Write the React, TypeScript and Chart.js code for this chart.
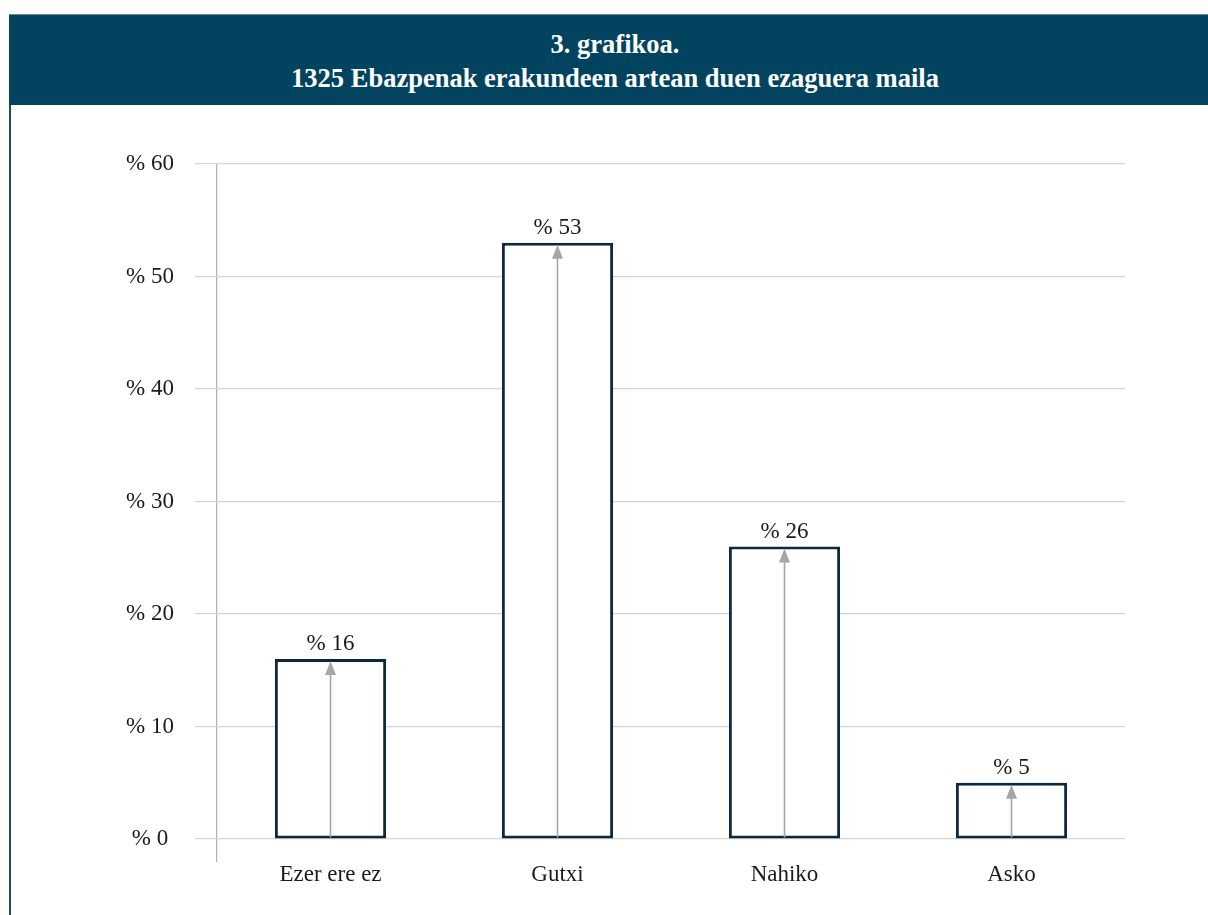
import React, { useEffect, useRef } from "react";
import { Chart, registerables } from "chart.js";
Chart.register(...registerables);

const titleLines = ["3. grafikoa.", "1325 Ebazpenak erakundeen artean duen ezaguera maila"];
const categories = ["Ezer ere ez", "Gutxi", "Nahiko", "Asko"];
const values = [16, 53, 26, 5];
const yMin = 0;
const yMax = 60;
const yStep = 10;
const valuePrefix = "% ";

const FONT = "'Liberation Serif', 'DejaVu Serif', serif";

const barDecor = {
  id: "barDecor",
  afterDatasetsDraw(chart: any) {
    const ctx = chart.ctx;
    const meta = chart.getDatasetMeta(0);
    ctx.save();
    meta.data.forEach((bar: any, i: number) => {
      const x = bar.x;
      const top = bar.y;
      const base = bar.base;
      // arrow
      ctx.strokeStyle = "#a6a6a6";
      ctx.fillStyle = "#a6a6a6";
      ctx.lineWidth = 1.6;
      ctx.beginPath();
      ctx.moveTo(x, base - 1);
      ctx.lineTo(x, top + 12);
      ctx.stroke();
      ctx.beginPath();
      ctx.moveTo(x, top + 2);
      ctx.lineTo(x - 5.5, top + 16);
      ctx.lineTo(x + 5.5, top + 16);
      ctx.closePath();
      ctx.fill();
      // label
      ctx.fillStyle = "#1a1a1a";
      ctx.font = `23px ${FONT}`;
      ctx.textAlign = "center";
      ctx.textBaseline = "alphabetic";
      ctx.fillText(valuePrefix + values[i], x, top - 9);
    });
    ctx.restore();
  },
};

function BarChart() {
  const ref = useRef<HTMLCanvasElement | null>(null);
  useEffect(() => {
    if (!ref.current) return;
    const chart = new Chart(ref.current, {
      type: "bar",
      data: {
        labels: categories,
        datasets: [
          {
            data: values,
            backgroundColor: "#ffffff",
            borderColor: "#0d2840",
            borderWidth: 3,
            borderSkipped: false,
            barPercentage: 0.49,
            categoryPercentage: 1,
          },
        ],
      },
      options: {
        animation: false,
        responsive: true,
        maintainAspectRatio: false,
        layout: { padding: { left: 0, right: 83, top: 59, bottom: 0 } },
        plugins: {
          legend: { display: false },
          title: { display: false },
          tooltip: { enabled: false },
        },
        scales: {
          x: {
            offset: true,
            border: { display: false },
            grid: {
              offset: true,
              drawOnChartArea: true,
              drawTicks: true,
              tickLength: 23,
              lineWidth: 1.2,
              color: (c: any) => (c.index === 0 ? "#b0b0b0" : "rgba(0,0,0,0)"),
            },
            ticks: {
              color: "#1a1a1a",
              font: { family: FONT, size: 23, lineHeight: 1.1 },
              padding: 0,
            },
            afterFit: (s: any) => {
              s.height = 76;
            },
          },
          y: {
            min: yMin,
            max: yMax,
            border: { display: false },
            grid: {
              color: "#d4d4d4",
              lineWidth: 1.2,
              tickLength: 22,
            },
            ticks: {
              stepSize: yStep,
              color: "#1a1a1a",
              font: { family: FONT, size: 23 },
              padding: 21,
              crossAlign: "center",
              callback: (v: any) => valuePrefix + v,
            },
            afterFit: (s: any) => {
              s.width = 206;
            },
          },
        },
      },
      plugins: [barDecor],
    });
    return () => chart.destroy();
  }, []);
  return <canvas ref={ref} />;
}

export default function App() {
  useEffect(() => {
    document.body.style.margin = "0";
  }, []);
  return (
    <div style={{ position: "absolute", left: 0, top: 0, width: 1208, height: 915, background: "#fff", overflow: "hidden" }}>
      <div
        style={{
          position: "absolute",
          left: 9,
          top: 14,
          width: 1199,
          height: 91,
          background: "#02445f",
          borderTop: "1px solid #6a8798",
          boxSizing: "border-box",
          color: "#fff",
          fontFamily: FONT,
          fontWeight: "bold",
          fontSize: 26.5,
          textAlign: "center",
          lineHeight: "34px",
          paddingTop: 12,
          paddingLeft: 13,
        }}
      >
        <div>{titleLines[0]}</div>
        <div>{titleLines[1]}</div>
      </div>
      <div style={{ position: "absolute", left: 9, top: 105, width: 2, height: 810, background: "#1f4a66" }} />
      <div style={{ position: "absolute", left: 11, top: 105, width: 1197, height: 810 }}>
        <BarChart />
      </div>
    </div>
  );
}
